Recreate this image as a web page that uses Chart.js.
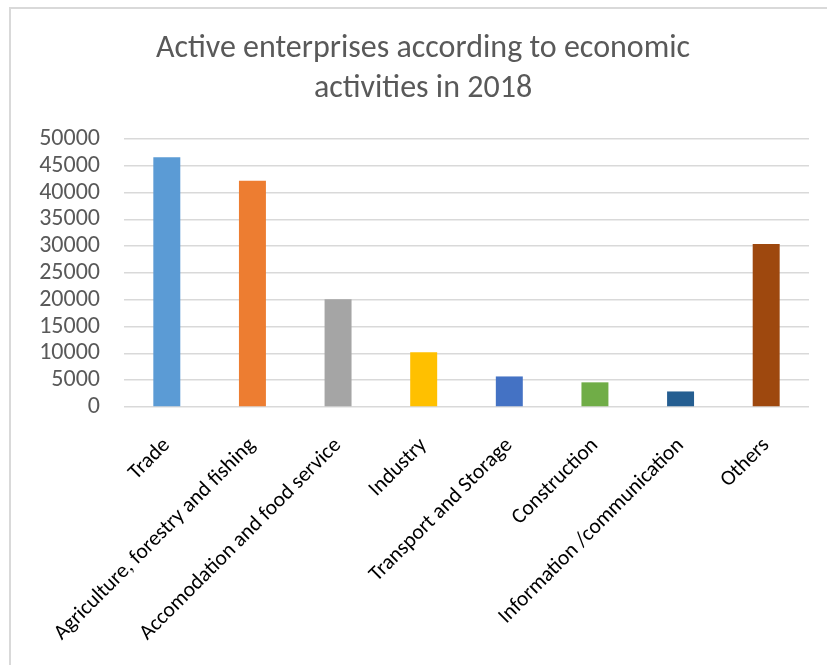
<!DOCTYPE html>
<html>
<head>
<meta charset="utf-8">
<script src="https://cdn.jsdelivr.net/npm/chart.js@4"></script>
<style>
  html, body { margin: 0; padding: 0; background: #fff; overflow: hidden; }
  #frame {
    position: absolute; left: 9px; top: 7px; width: 900px; height: 720px;
    border-left: 2px solid #d9d9d9; border-top: 2px solid #d9d9d9;
  }
  #wrap { position: absolute; left: 0; top: 0; width: 827px; height: 665px; }
</style>
</head>
<body>
<div id="frame"></div>
<div id="wrap"><canvas id="barChart"></canvas></div>
<script>
const categories = [
    "Trade",
    "Agriculture, forestry and fishing",
    "Accomodation and food service",
    "Industry",
    "Transport and Storage",
    "Construction",
    "Information /communication",
    "Others"
];
const enterprises = [46600, 42200, 20100, 10200, 5700, 4600, 2900, 30400];
const barColors = ["#5b9bd5", "#ed7d31", "#a5a5a5", "#ffc000", "#4472c4", "#70ad47", "#255e91", "#9e480e"];
const yMax = 50000;
const yStep = 5000;

const fontFamily = "Carlito, Lato, 'Liberation Sans', sans-serif";

document.addEventListener("DOMContentLoaded", () => {
    const ctx = document.getElementById("barChart").getContext("2d");

    new Chart(ctx, {
        type: "bar",
        data: {
            labels: categories,
            datasets: [{
                data: enterprises,
                backgroundColor: barColors,
                borderWidth: 0,
                barPercentage: 0.315,
                categoryPercentage: 1
            }]
        },
        options: {
            responsive: true,
            maintainAspectRatio: false,
            animation: false,
            // left padding keeps the title centred on the framed box
            layout: { padding: { top: 0, right: 18, bottom: 0, left: 37 } },
            plugins: {
                legend: { display: false },
                tooltip: { enabled: false },
                title: {
                    display: true,
                    text: ["Active enterprises according to economic", "activities in 2018"],
                    color: "#595959",
                    font: { family: fontFamily, size: 32, weight: "normal", lineHeight: 1.25 },
                    padding: { top: 29, bottom: 30 }
                }
            },
            scales: {
                x: {
                    grid: { display: false, drawTicks: false },
                    border: { display: false },
                    ticks: {
                        color: "#000",
                        font: { family: fontFamily, size: 21.5 },
                        minRotation: 45,
                        maxRotation: 45,
                        autoSkip: false,
                        padding: 26
                    },
                    afterFit: (s) => { s.height = 258; }
                },
                y: {
                    min: 0,
                    max: yMax,
                    grid: { color: "#d9d9d9", lineWidth: 1.5, drawTicks: false },
                    border: { display: false },
                    ticks: {
                        stepSize: yStep,
                        autoSkip: false,
                        color: "#595959",
                        font: { family: fontFamily, size: 24 },
                        padding: 24,
                        callback: (v) => String(v)
                    },
                    afterFit: (s) => { s.width = 87; }
                }
            }
        }
    });
});
</script>
</body>
</html>
